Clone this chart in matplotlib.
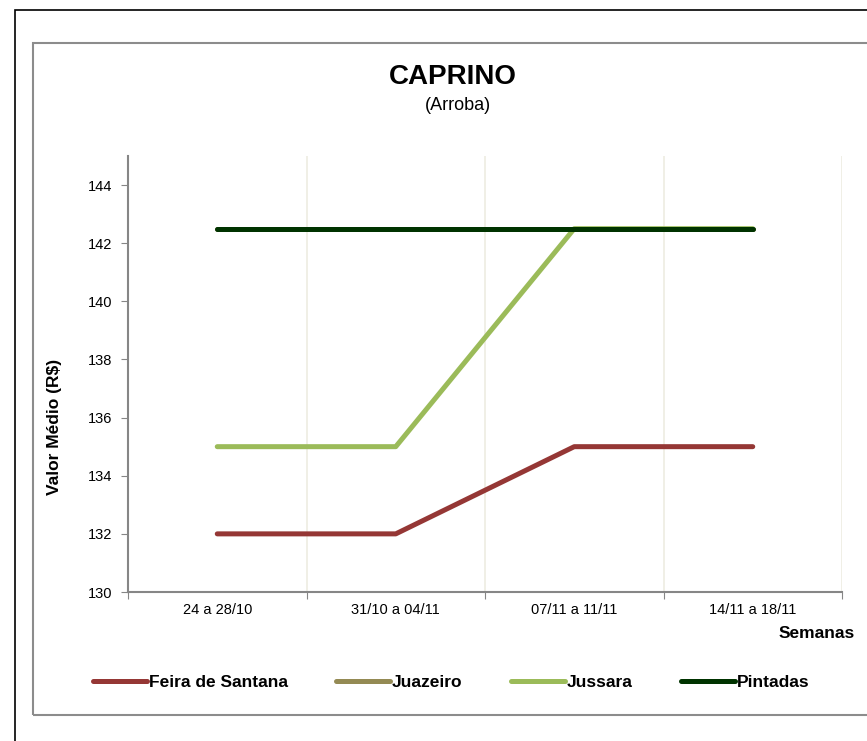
import matplotlib.pyplot as plt
from matplotlib.patches import Rectangle

plt.rcParams['font.family'] = ['Liberation Sans', 'DejaVu Sans']

semanas = ['24 a 28/10', '31/10 a 04/11', '07/11 a 11/11', '14/11 a 18/11']
feira = [132, 132, 135, 135]
juazeiro = [142.5, 142.5, 142.5, 142.5]
jussara = [135, 135, 142.5, 142.5]
pintadas = [142.5, 142.5, 142.5, 142.5]

W, H = 867, 741
fig = plt.figure(figsize=(W / 100, H / 100), dpi=100)

# outer frames
fig.patches.append(Rectangle((15 / W, 1 - 1.5), 2, 1.5 - 10 / H, transform=fig.transFigure,
                             fill=False, edgecolor='black', linewidth=1.2))
fig.patches.append(Rectangle((33 / W, 1 - 715 / H), 2, (715 - 43) / H, transform=fig.transFigure,
                             fill=False, edgecolor='#8c8c8c', linewidth=1.5))

ax = fig.add_axes([128 / W, 1 - 592 / H, (842 - 128) / W, (592 - 156) / H])

x = range(len(semanas))
ax.plot(x, feira, color='#953735', lw=3.6, solid_capstyle='round', label='Feira de Santana')
ax.plot(x, juazeiro, color='#948a54', lw=3.6, solid_capstyle='round', label='Juazeiro')
ax.plot(x, jussara, color='#9bbb59', lw=3.6, solid_capstyle='round', label='Jussara')
ax.plot(x, pintadas, color='#003300', lw=3.6, solid_capstyle='round', label='Pintadas')

ax.set_xlim(-0.5, 3.5)
ax.set_ylim(130, 145)
ax.set_yticks(range(130, 145, 2))
ax.set_xticks([i - 0.5 for i in range(5)])
ax.set_xticklabels([])
ax.set_xticks(list(x), minor=True)
ax.set_xticklabels(semanas, minor=True)
ax.tick_params(axis='x', which='minor', length=0, pad=8, labelsize=10.5)
ax.tick_params(axis='x', which='major', length=5, color='#868686', direction='out')
ax.tick_params(axis='y', length=5, color='#868686', labelsize=10.5, pad=6)
ax.grid(axis='x', which='major', color='#eeece1', lw=1.2)
for s in ['top', 'right']:
    ax.spines[s].set_visible(False)
for s in ['left', 'bottom']:
    ax.spines[s].set_color('#868686')
    ax.spines[s].set_linewidth(1.5)

fig.text(55 / W, 1 - 427 / H, 'Valor Médio (R$)', fontsize=12.5, fontweight='bold',
         rotation=90, ha='center', va='center')
fig.text(855 / W, 1 - 634 / H, 'Semanas', fontsize=12.5, fontweight='bold', ha='right', va='center')
fig.text(453 / W, 1 - 77 / H, 'CAPRINO', fontsize=20, fontweight='bold', ha='center', va='center')
fig.text(458 / W, 1 - 106 / H, '(Arroba)', fontsize=13, ha='center', va='center')

fig.legend(loc='center', bbox_to_anchor=(451 / W, 1 - 682 / H), ncol=4, frameon=False,
           prop={'weight': 'bold', 'size': 12.5}, handlelength=3.1, handletextpad=0.1,
           columnspacing=2.8)

fig.savefig('out.png', dpi=100)
